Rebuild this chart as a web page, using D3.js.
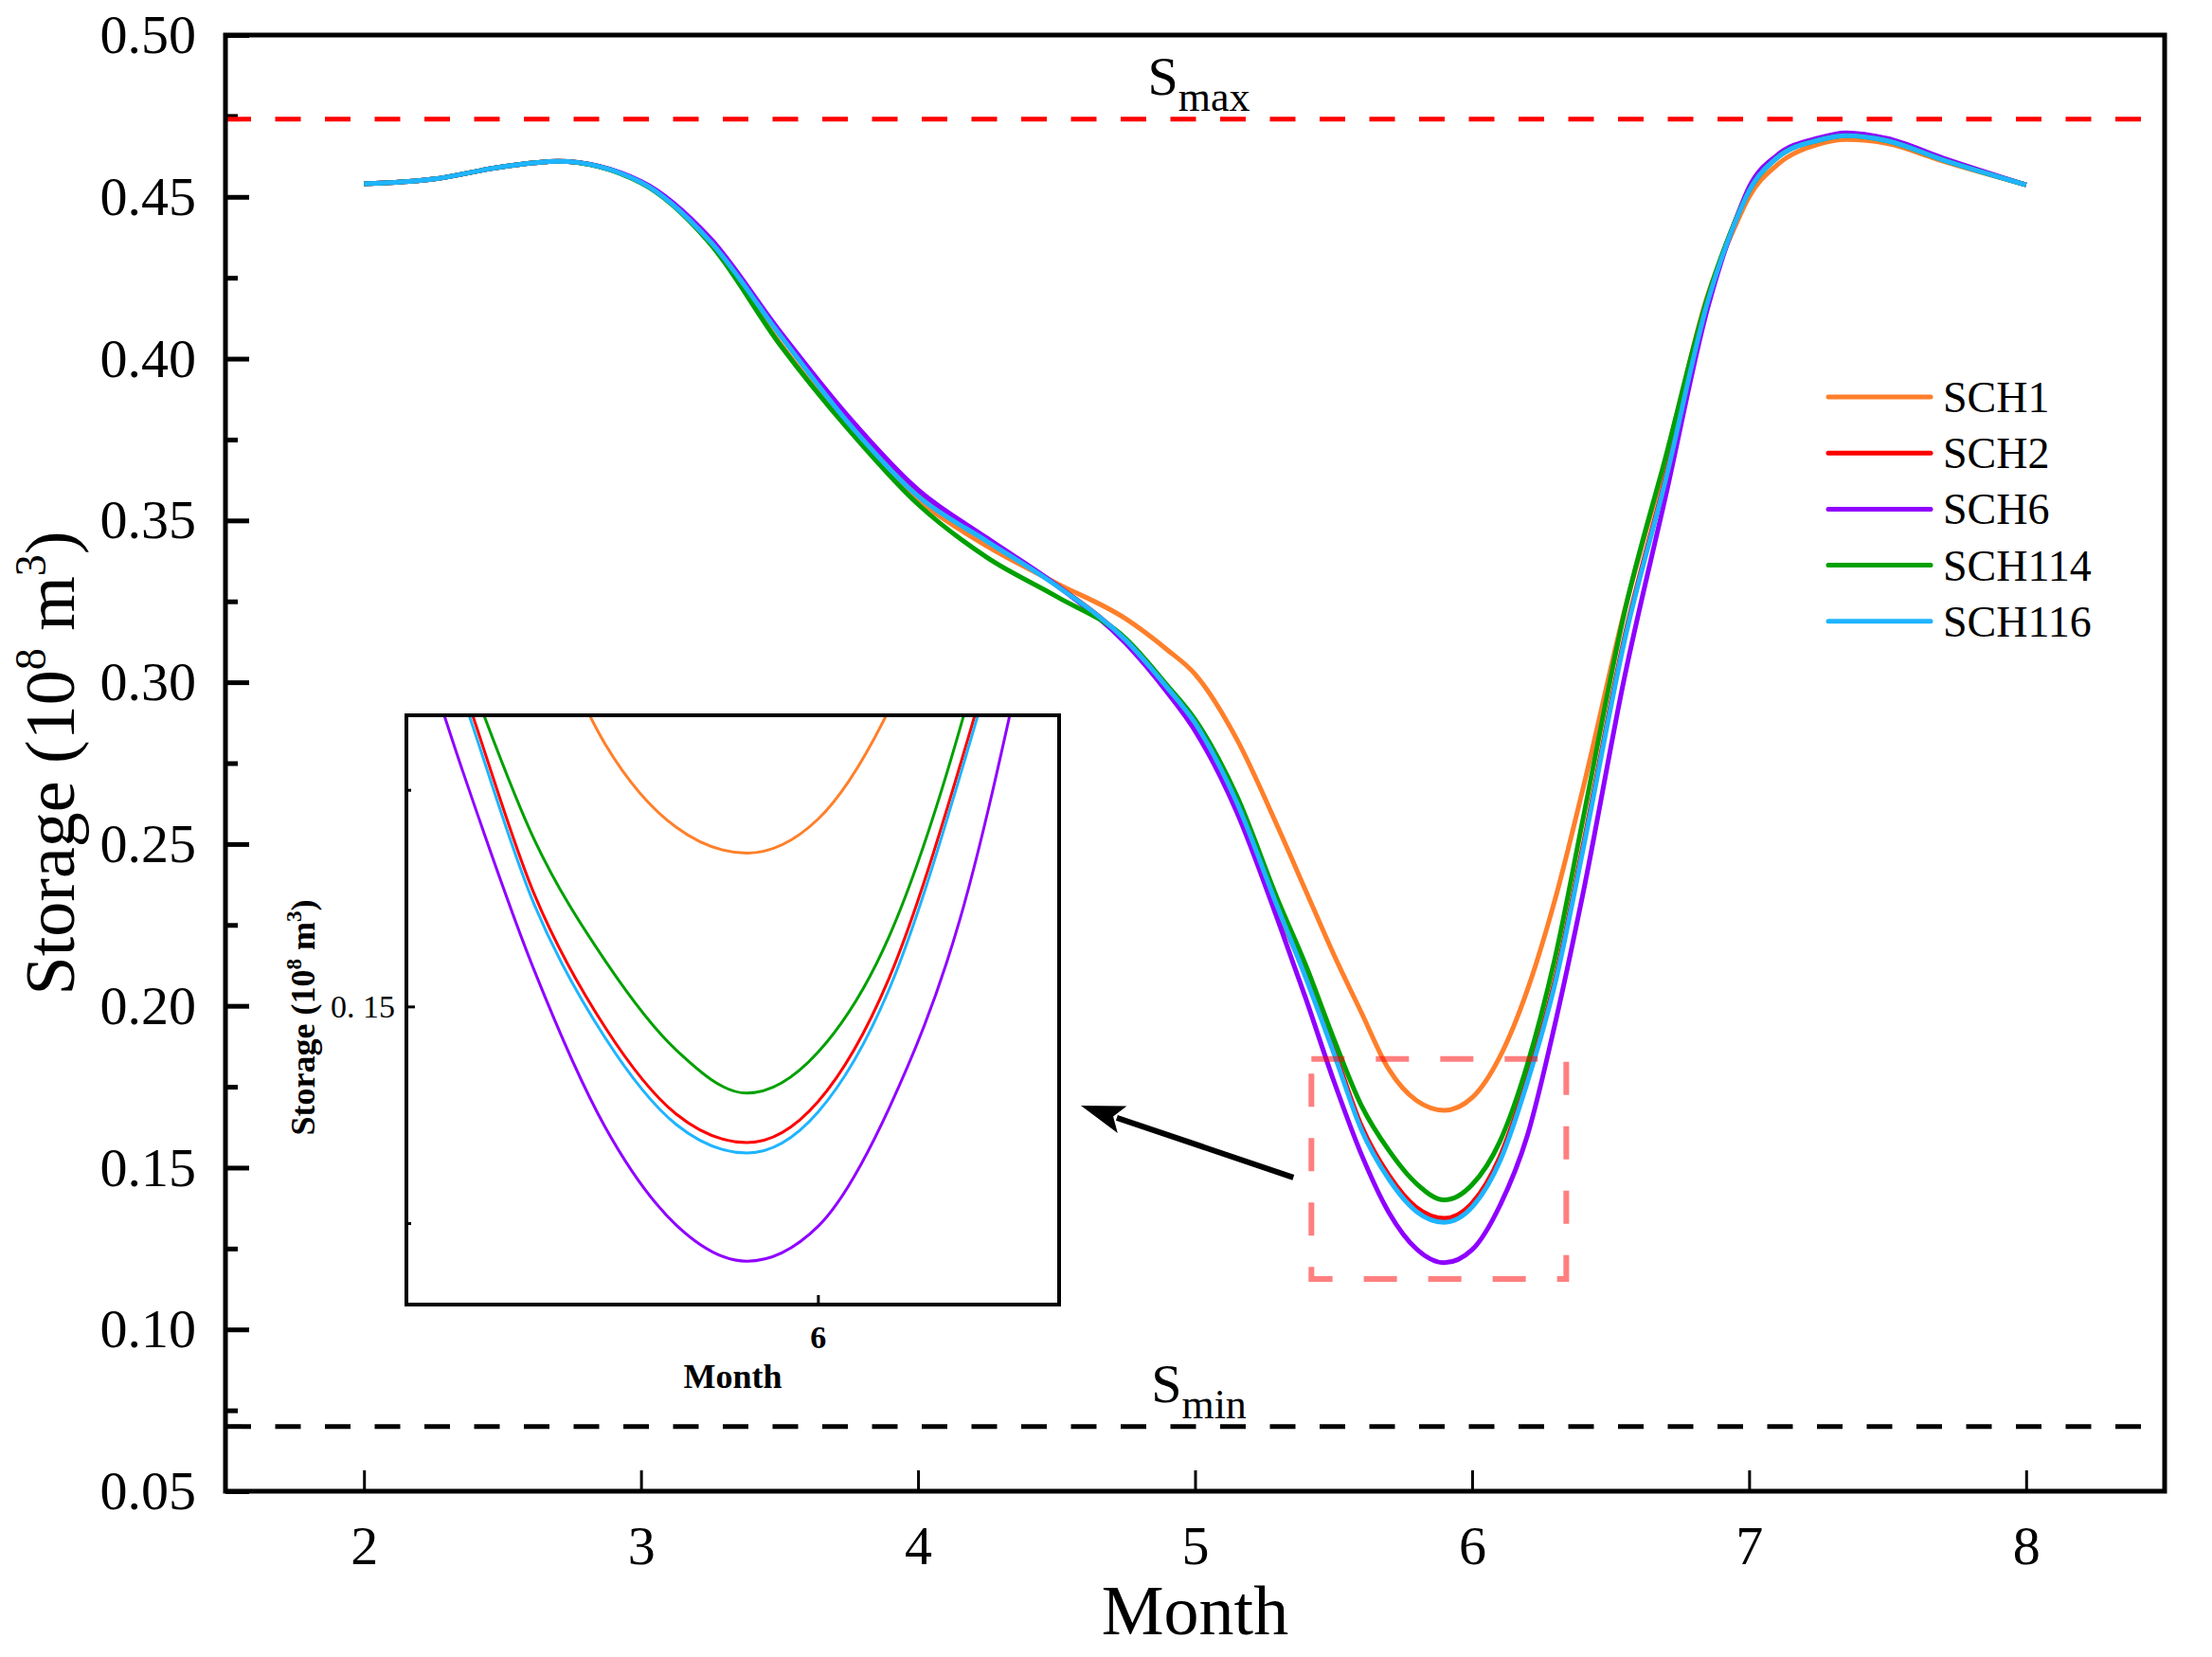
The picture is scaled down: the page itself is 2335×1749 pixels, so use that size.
<!DOCTYPE html>
<html>
<head>
<meta charset="utf-8">
<script src="https://cdn.jsdelivr.net/npm/d3@7"></script>
<style>
  body { margin: 0; background: #fff; }
  text { font-family: "Liberation Serif", "Times New Roman", serif; fill: #000; }
</style>
</head>
<body>
<div id="grafico"></div>
<script>
// months sampled along the curves
var months = [2.0, 2.25, 2.5, 2.7, 3.0, 3.25, 3.5, 3.75, 4.0, 4.25, 4.5, 4.75, 4.9, 5.0, 5.15, 5.3, 5.4,
  5.5, 5.6, 5.7, 5.8, 5.9, 6.0, 6.1, 6.2, 6.3, 6.4, 6.55, 6.7, 6.85, 6.95, 7.0, 7.1, 7.25, 7.35, 7.5, 7.7, 8.0];

// storage (10^8 m^3) for each scheme
var sch1 = [0.4540, 0.4555, 0.4593, 0.4610, 0.4545, 0.4360, 0.4050, 0.3785, 0.3565, 0.3420, 0.3306, 0.3196,
  0.3100, 0.3025, 0.2825, 0.2550, 0.2355, 0.2160, 0.1980, 0.1803, 0.1707, 0.1677, 0.1716, 0.1842, 0.2050,
  0.2330, 0.2670, 0.3220, 0.3690, 0.4195, 0.4410, 0.4500, 0.4598, 0.4662, 0.4677, 0.4665, 0.4610, 0.4537];
var sch2 = [0.4540, 0.4555, 0.4593, 0.4610, 0.4545, 0.4365, 0.4080, 0.3810, 0.3585, 0.3440, 0.3300, 0.3128,
  0.2976, 0.2864, 0.2618, 0.2290, 0.2095, 0.1868, 0.1630, 0.1476, 0.1376, 0.1343, 0.1390, 0.1532, 0.1777,
  0.2082, 0.2492, 0.3137, 0.3638, 0.4178, 0.4425, 0.4520, 0.4622, 0.4677, 0.4691, 0.4675, 0.4615, 0.4537];
var sch6 = [0.4540, 0.4555, 0.4593, 0.4610, 0.4548, 0.4372, 0.4086, 0.3820, 0.3595, 0.3445, 0.3300, 0.3120,
  0.2968, 0.2850, 0.2600, 0.2262, 0.2022, 0.1770, 0.1542, 0.1361, 0.1248, 0.1206, 0.1246, 0.1382, 0.1600,
  0.1946, 0.2345, 0.3014, 0.3580, 0.4155, 0.4425, 0.4530, 0.4628, 0.4682, 0.4698, 0.4680, 0.4620, 0.4537];
var sch114 = [0.4540, 0.4555, 0.4593, 0.4610, 0.4543, 0.4355, 0.4045, 0.3780, 0.3550, 0.3385, 0.3265, 0.3135,
  0.2990, 0.2885, 0.2650, 0.2325, 0.2125, 0.1900, 0.1693, 0.1553, 0.1450, 0.1400, 0.1447, 0.1580, 0.1820,
  0.2150, 0.2575, 0.3215, 0.3700, 0.4190, 0.4425, 0.4518, 0.4620, 0.4675, 0.4689, 0.4673, 0.4614, 0.4537];
var sch116 = [0.4540, 0.4555, 0.4593, 0.4610, 0.4545, 0.4362, 0.4075, 0.3800, 0.3575, 0.3435, 0.3298, 0.3130,
  0.2983, 0.2874, 0.2630, 0.2300, 0.2086, 0.1856, 0.1618, 0.1464, 0.1364, 0.1331, 0.1378, 0.1519, 0.1765,
  0.2070, 0.2480, 0.3127, 0.3630, 0.4174, 0.4422, 0.4518, 0.4620, 0.4675, 0.4689, 0.4673, 0.4614, 0.4537];

var seriesNames = ['SCH1', 'SCH2', 'SCH6', 'SCH114', 'SCH116'];
var seriesValues = [sch1, sch2, sch6, sch114, sch116];
var seriesColors = ['#ff7f2a', '#ff0000', '#8f00ff', '#00a000', '#1fb4ff'];

var xTicks = [2, 3, 4, 5, 6, 7, 8];
var yTicks = [0.05, 0.10, 0.15, 0.20, 0.25, 0.30, 0.35, 0.40, 0.45, 0.50];
var yMinorTicks = [0.075, 0.125, 0.175, 0.225, 0.275, 0.325, 0.375, 0.425, 0.475];

var sMax = 0.474;
var sMin = 0.07;

// zoomed window shown in the inset
var zoomMonths = [5.42, 6.34];
var zoomStorage = [0.1156, 0.1836];
var insetXTicks = [6];
var insetYTicks = [0.15];
var insetYTickLabels = ['0. 15'];
var insetYMinorTicks = [0.125, 0.175];

var svgWidth = 2335;
var svgHeight = 1749;

var svg = d3.select("#grafico")
  .append("svg")
  .attr("width", svgWidth)
  .attr("height", svgHeight)
  .style("display", "block");

svg.append("rect").attr("width", svgWidth).attr("height", svgHeight).attr("fill", "#fff");

var margin = { top: 37, right: 50, bottom: 175, left: 238 };
var chartWidth = svgWidth - margin.left - margin.right;
var chartHeight = svgHeight - margin.top - margin.bottom;

var xScale = d3.scaleLinear().domain([1.5, 8.5]).range([0, chartWidth]);
var yScale = d3.scaleLinear().domain([0.05, 0.50]).range([chartHeight, 0]);

var chart = svg.append("g")
  .attr("transform", "translate(" + margin.left + "," + margin.top + ")");

// axes (ticks point inward)
var xAxis = d3.axisBottom(xScale).tickValues(xTicks).tickSize(-22).tickPadding(36).tickFormat(d3.format("d"));
var yAxis = d3.axisLeft(yScale).tickValues(yTicks).tickSize(-25).tickPadding(31).tickFormat(d3.format(".2f"));
var yMinor = d3.axisLeft(yScale).tickValues(yMinorTicks).tickSize(-13).tickFormat("");

var gx = chart.append("g")
  .attr("class", "x axis")
  .attr("transform", "translate(0," + chartHeight + ")")
  .call(xAxis);
var gy = chart.append("g").attr("class", "y axis").call(yAxis);
var gyMinor = chart.append("g").attr("class", "y minor").call(yMinor);

[gx, gy, gyMinor].forEach(function (g) {
  g.select(".domain").remove();
  g.selectAll("text").style("font-size", "58px").style("font-family", '"Liberation Serif", serif').attr("fill", "#000");
});
gx.selectAll("line").attr("stroke", "#000").attr("stroke-width", 3);
gy.selectAll("line").attr("stroke", "#000").attr("stroke-width", 5);
gyMinor.selectAll("line").attr("stroke", "#000").attr("stroke-width", 5);

// Smax / Smin reference lines
chart.append("line")
  .attr("x1", 0).attr("x2", chartWidth)
  .attr("y1", yScale(sMax)).attr("y2", yScale(sMax))
  .attr("stroke", "#ff0000").attr("stroke-width", 5)
  .attr("stroke-dasharray", "27,25.5");
chart.append("line")
  .attr("x1", 0).attr("x2", chartWidth)
  .attr("y1", yScale(sMin)).attr("y2", yScale(sMin))
  .attr("stroke", "#000").attr("stroke-width", 5)
  .attr("stroke-dasharray", "27,25.5");

function limitLabel(value, sub) {
  var t = chart.append("text")
    .attr("x", xScale(5) + 4)
    .attr("y", yScale(value) - 26)
    .attr("text-anchor", "middle")
    .style("font-size", "58px");
  t.append("tspan").text("S");
  t.append("tspan").attr("dy", 17).style("font-size", "44px").text(sub);
}
limitLabel(sMax, "max");
limitLabel(sMin, "min");

// curves
var line = d3.line()
  .x(function (d) { return xScale(d[0]); })
  .y(function (d) { return yScale(d[1]); })
  .curve(d3.curveMonotoneX);

var seriesData = seriesValues.map(function (vals) {
  return vals.map(function (v, i) { return [months[i], v]; });
});

chart.selectAll(".curve")
  .data(seriesData)
  .enter()
  .append("path")
  .attr("class", "curve")
  .attr("d", line)
  .attr("fill", "none")
  .attr("stroke", function (d, i) { return seriesColors[i]; })
  .attr("stroke-width", 5)
  .attr("stroke-linejoin", "round");

// frame
chart.append("rect")
  .attr("x", 0).attr("y", 0)
  .attr("width", chartWidth).attr("height", chartHeight)
  .attr("fill", "none").attr("stroke", "#000").attr("stroke-width", 5);

// zoom window on the main plot
var zx0 = xScale(zoomMonths[0]), zx1 = xScale(zoomMonths[1]);
var zy0 = yScale(zoomStorage[1]), zy1 = yScale(zoomStorage[0]);
chart.append("rect")
  .attr("x", zx0).attr("y", zy0)
  .attr("width", zx1 - zx0).attr("height", zy1 - zy0)
  .attr("fill", "none")
  .attr("stroke", "#ff0000").attr("stroke-opacity", 0.5)
  .attr("stroke-width", 6)
  .attr("stroke-dasharray", "35,33");

// legend
var legend = chart.append("g")
  .attr("transform", "translate(" + (1930 - margin.left) + "," + (419 - margin.top) + ")");
seriesNames.forEach(function (name, i) {
  var row = legend.append("g").attr("transform", "translate(0," + (i * 59.2) + ")");
  row.append("line")
    .attr("x1", 0).attr("x2", 108)
    .attr("stroke", seriesColors[i]).attr("stroke-width", 5)
    .attr("stroke-linecap", "round");
  row.append("text")
    .attr("x", 121).attr("y", 16)
    .style("font-size", "46px")
    .text(name);
});

// axis titles
svg.append("text")
  .attr("x", margin.left + chartWidth / 2)
  .attr("y", 1725)
  .attr("text-anchor", "middle")
  .style("font-size", "74px")
  .text("Month");

var yTitle = svg.append("text")
  .attr("transform", "translate(78," + (margin.top + chartHeight / 2) + ") rotate(-90)")
  .attr("text-anchor", "middle")
  .style("font-size", "74px");
yTitle.append("tspan").text("Storage (10");
yTitle.append("tspan").attr("dy", -30).style("font-size", "46px").text("8");
yTitle.append("tspan").attr("dy", 30).text(" m");
yTitle.append("tspan").attr("dy", -30).style("font-size", "46px").text("3");
yTitle.append("tspan").attr("dy", 30).text(")");

// inset
var inset = { left: 429, top: 755, width: 689, height: 622 };
var xIn = d3.scaleLinear().domain(zoomMonths).range([0, inset.width]);
var yIn = d3.scaleLinear().domain(zoomStorage).range([inset.height, 0]);

var gIn = svg.append("g").attr("transform", "translate(" + inset.left + "," + inset.top + ")");

svg.append("defs").append("clipPath").attr("id", "insetClip")
  .append("rect").attr("width", inset.width).attr("height", inset.height);

gIn.append("rect").attr("width", inset.width).attr("height", inset.height).attr("fill", "#fff");

var lineIn = d3.line()
  .x(function (d) { return xIn(d[0]); })
  .y(function (d) { return yIn(d[1]); })
  .curve(d3.curveMonotoneX);

gIn.append("g").attr("clip-path", "url(#insetClip)")
  .selectAll("path")
  .data(seriesData)
  .enter()
  .append("path")
  .attr("d", lineIn)
  .attr("fill", "none")
  .attr("stroke", function (d, i) { return seriesColors[i]; })
  .attr("stroke-width", 3);

var xAxisIn = d3.axisBottom(xIn).tickValues(insetXTicks).tickSize(-10).tickPadding(22).tickFormat(d3.format("d"));
var yAxisIn = d3.axisLeft(yIn).tickValues(insetYTicks).tickSize(-9).tickPadding(12)
  .tickFormat(function (d, i) { return insetYTickLabels[i]; });
var yMinorIn = d3.axisLeft(yIn).tickValues(insetYMinorTicks).tickSize(-5).tickFormat("");

var gxIn = gIn.append("g").attr("transform", "translate(0," + inset.height + ")").call(xAxisIn);
var gyIn = gIn.append("g").call(yAxisIn);
var gyMinorIn = gIn.append("g").call(yMinorIn);
[gxIn, gyIn, gyMinorIn].forEach(function (g) {
  g.select(".domain").remove();
  g.selectAll("line").attr("stroke", "#000").attr("stroke-width", 3);
  g.selectAll("text").style("font-family", '"Liberation Serif", serif').attr("fill", "#000");
});
gxIn.selectAll("text").style("font-size", "34px").style("font-weight", "bold");
gyIn.selectAll("text").style("font-size", "34px");

gIn.append("rect")
  .attr("width", inset.width).attr("height", inset.height)
  .attr("fill", "none").attr("stroke", "#000").attr("stroke-width", 4);

gIn.append("text")
  .attr("x", inset.width / 2)
  .attr("y", inset.height + 88)
  .attr("text-anchor", "middle")
  .style("font-size", "36px").style("font-weight", "bold")
  .text("Month");

var yTitleIn = gIn.append("text")
  .attr("transform", "translate(-97," + (inset.height / 2 + 8) + ") rotate(-90)")
  .attr("text-anchor", "middle")
  .style("font-size", "36px").style("font-weight", "bold");
yTitleIn.append("tspan").text("Storage (10");
yTitleIn.append("tspan").attr("dy", -14).style("font-size", "23px").text("8");
yTitleIn.append("tspan").attr("dy", 14).text(" m");
yTitleIn.append("tspan").attr("dy", -14).style("font-size", "23px").text("3");
yTitleIn.append("tspan").attr("dy", 14).text(")");

// arrow from the zoom window to the inset
var arrowStart = [margin.left + zx0 - 19, margin.top + (zy0 + zy1) / 2 + 9];
var arrowEnd = [inset.left + inset.width + 23, inset.top + 412];
var ang = Math.atan2(arrowEnd[1] - arrowStart[1], arrowEnd[0] - arrowStart[0]);
var headLen = 46, headHalf = 15;
var baseX = arrowEnd[0] - headLen * Math.cos(ang), baseY = arrowEnd[1] - headLen * Math.sin(ang);
svg.append("line")
  .attr("x1", arrowStart[0]).attr("y1", arrowStart[1])
  .attr("x2", baseX + 6 * Math.cos(ang)).attr("y2", baseY + 6 * Math.sin(ang))
  .attr("stroke", "#000").attr("stroke-width", 6);
svg.append("polygon")
  .attr("points", [
    [arrowEnd[0], arrowEnd[1]],
    [baseX - headHalf * Math.sin(ang), baseY + headHalf * Math.cos(ang)],
    [baseX + 10 * Math.cos(ang), baseY + 10 * Math.sin(ang)],
    [baseX + headHalf * Math.sin(ang), baseY - headHalf * Math.cos(ang)]
  ].map(function (p) { return p.join(","); }).join(" "))
  .attr("fill", "#000");
</script>
</body>
</html>
